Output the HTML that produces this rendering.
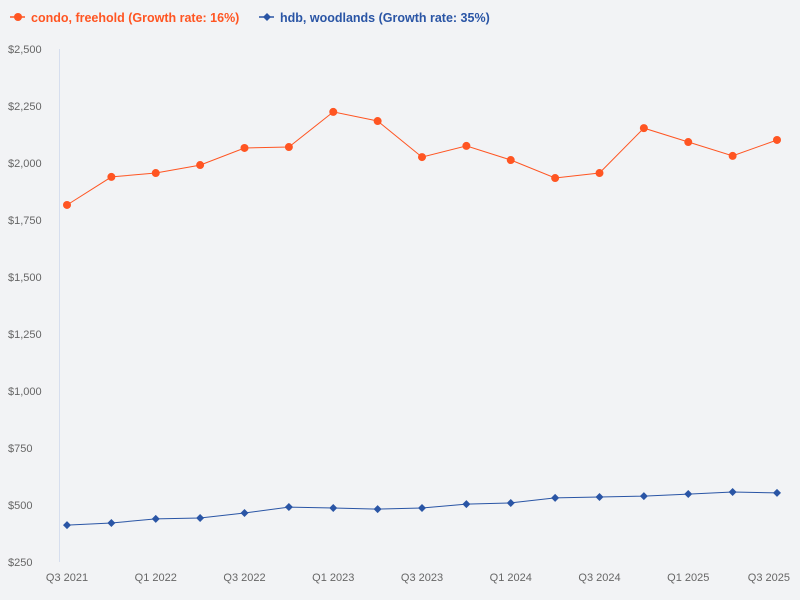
<!DOCTYPE html>
<html><head><meta charset="utf-8">
<style>
html,body{margin:0;padding:0;background:#f2f3f5;}
svg{display:block;font-family:"Liberation Sans","DejaVu Sans",sans-serif;}
</style></head>
<body>
<svg id="chart" width="800" height="600">
  <g>
    <g>
      <line x1="10" y1="17" x2="25" y2="17" stroke="#ff5522" stroke-width="1.5"/>
      <circle cx="18" cy="17" r="4" fill="#ff5522"/>
      <text x="31" y="22" font-size="12.5" font-weight="bold" fill="#ff5522">condo, freehold (Growth rate: 16%)</text>
    </g>
    <g>
      <line x1="259" y1="17" x2="274" y2="17" stroke="#2a55a5" stroke-width="1.5"/>
      <path d="M267 13 L271 17 L267 21 L263 17 Z" fill="#2a55a5"/>
      <text x="280" y="22" font-size="12.5" font-weight="bold" fill="#2a55a5">hdb, woodlands (Growth rate: 35%)</text>
    </g>
  </g>
  <line x1="59.5" y1="49" x2="59.5" y2="562" stroke="#d6deee" stroke-width="1"/>
  <g id="yticks"></g>
  <g id="xticks"></g>
  <g id="series"></g>
</svg>
<script>
const quarters = ["Q3 2021","Q4 2021","Q1 2022","Q2 2022","Q3 2022","Q4 2022","Q1 2023","Q2 2023","Q3 2023","Q4 2023","Q1 2024","Q2 2024","Q3 2024","Q4 2024","Q1 2025","Q2 2025","Q3 2025"];
const condoValues = [1816,1939,1956,1991,2066,2070,2224,2184,2026,2075,2013,1934,1956,2153,2092,2031,2101];
const hdbValues = [412,421,439,443,465,491,487,482,487,504,509,531,535,539,548,557,553];
const yTickValues = [250,500,750,1000,1250,1500,1750,2000,2250,2500];
const yTickLabels = ["$250","$500","$750","$1,000","$1,250","$1,500","$1,750","$2,000","$2,250","$2,500"];

const NS = "http://www.w3.org/2000/svg";
const yMin = 250, yMax = 2500, yTop = 49, yBot = 562;
const xLeft = 67, xRight = 777;
function yScale(v){ return yBot - (v - yMin) / (yMax - yMin) * (yBot - yTop); }
function xScale(i){ return xLeft + i * (xRight - xLeft) / (quarters.length - 1); }
function mk(tag, attrs, parent){ const e = document.createElementNS(NS, tag); for (const k in attrs) e.setAttribute(k, attrs[k]); parent.appendChild(e); return e; }

const yg = document.getElementById('yticks');
yTickValues.forEach((v, i) => {
  const t = mk('text', {x: 8, y: yScale(v) + 4, 'font-size': 11, fill: '#666666'}, yg);
  t.textContent = yTickLabels[i];
  
  
});

const xg = document.getElementById('xticks');
quarters.forEach((q, i) => {
  if (i % 2 !== 0) return;
  const last = i === quarters.length - 1;
  const t = mk('text', {x: last ? 790 : xScale(i), y: 581, 'font-size': 11, fill: '#666666', 'text-anchor': last ? 'end' : 'middle'}, xg);
  t.textContent = q;
  
  
});

const sg = document.getElementById('series');
function drawSeries(vals, color, name, shape) {
  const g = mk('g', {}, sg);
  
  
  const pts = vals.map((v, i) => xScale(i).toFixed(1) + ',' + yScale(v).toFixed(1)).join(' ');
  const pl = mk('polyline', {points: pts, fill: 'none', stroke: color, 'stroke-width': 1}, g);
  
  
  vals.forEach((v, i) => {
    const x = xScale(i), y = yScale(v);
    let m;
    if (shape === 'circle') m = mk('circle', {cx: x, cy: y, r: 4, fill: color}, g);
    else m = mk('path', {d: `M${x} ${y-4} L${x+4} ${y} L${x} ${y+4} L${x-4} ${y} Z`, fill: color}, g);
    
    
  });
}
drawSeries(condoValues, '#ff5522', 'condo', 'circle');
drawSeries(hdbValues, '#2a55a5', 'hdb', 'diamond');
</script>
</body></html>
